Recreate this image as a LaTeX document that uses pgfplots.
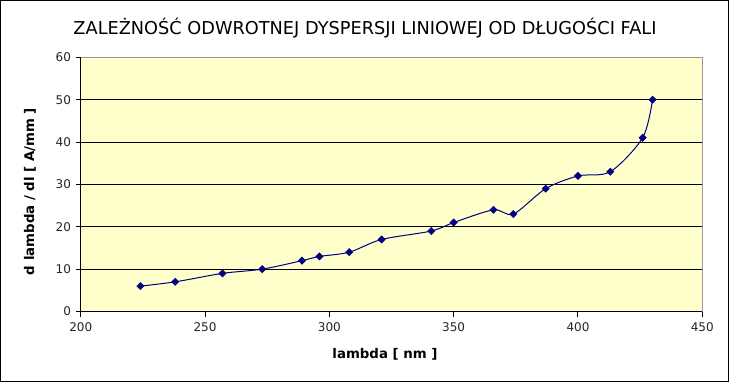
\documentclass[border=0pt]{standalone}
\usepackage{pgfplots}
\pgfplotsset{compat=1.18}
\usepackage{fontspec}
\setmainfont{DejaVu Sans}
\definecolor{bgyellow}{HTML}{FFFFCC}
\definecolor{navyc}{HTML}{000080}
\begin{document}
\begin{tikzpicture}
\useasboundingbox (-60.53pt,-53.63pt) rectangle (486.98pt,233.63pt);
\fill[white] (-60.53pt,-53.63pt) rectangle (486.98pt,233.63pt);
\draw[line width=0.75pt,black] (-60.15pt,-52.5pt) rectangle (486.2pt,233.25pt);
\begin{axis}[
  at={(0,0)}, anchor=south west,
  width=466.2pt, height=190.65pt, scale only axis,
  xmin=200, xmax=450, ymin=0, ymax=60,
  xtick={200,250,...,450}, ytick={0,10,...,60},
  xtick pos=bottom, ytick pos=left,
  tick align=outside, major tick length=3.75pt,
  tick style={black, line width=0.75pt},
  ymajorgrids, grid style={black, line width=0.75pt},
  axis background/.style={fill=bgyellow},
  axis line style={draw=gray!80, line width=0.75pt},
  /pgf/number format/assume math mode=true,
  ticklabel style={font=\fontsize{9}{10}\selectfont, text=black!85},
  xticklabel style={yshift=-1pt},
  every axis x label/.style={at={(axis description cs:0.4895,0)}, anchor=center, yshift=-31.9pt, font=\fontsize{10}{12}\selectfont\bfseries},
  every axis y label/.style={at={(axis description cs:-0.0815,0.472)}, rotate=90, anchor=center, font=\fontsize{10}{12}\selectfont\bfseries},
  xlabel={lambda [ nm ]},
  ylabel={d lambda / dl [ A/mm ]},
  clip=false,
]
\addplot[navyc, line width=0.75pt, smooth, tension=0.5, mark=square*, mark size=1.95pt, mark options={rotate=45, fill=navyc, draw=navyc, line width=0.3pt}] coordinates {
(224,6) (238,7) (257,9) (273,10) (289,12) (296,13) (308,14) (321,17) (341,19) (350,21) (366,24) (374,23) (387,29) (400,32) (413,33) (426,41) (430,50)
};
\draw[black, line width=0.75pt] (rel axis cs:0,1) -- (rel axis cs:0,0) -- (rel axis cs:1,0);
\end{axis}
\node[font=\fontsize{13.3}{15}\selectfont, anchor=center] at (213.2pt,212.6pt) {ZALEŻNOŚĆ ODWROTNEJ DYSPERSJI LINIOWEJ OD DŁUGOŚCI FALI};
\end{tikzpicture}
\end{document}
